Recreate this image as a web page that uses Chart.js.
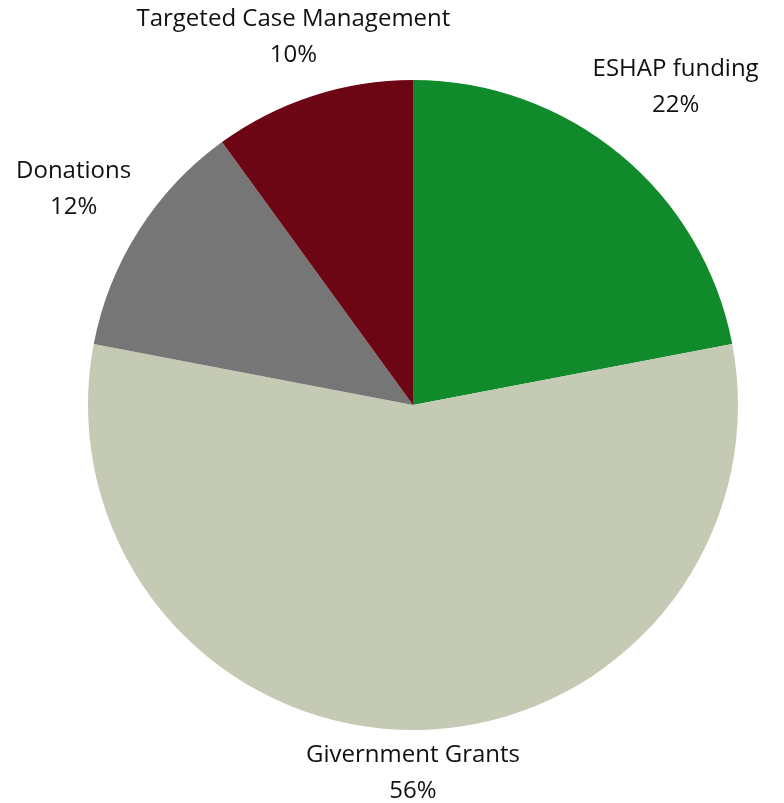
<!DOCTYPE html>
<html>
<head>
<meta charset="utf-8">
<title>Funding Sources</title>
<script src="https://cdn.jsdelivr.net/npm/chart.js@4/dist/chart.umd.min.js"></script>
<style>
    html, body { margin: 0; padding: 0; background: #fff; }
    #wrap { width: 784px; height: 803px; }
</style>
</head>
<body>
<div id="wrap"><canvas id="fundingPie" width="784" height="803"></canvas></div>
<script>
// Funding sources, clockwise from 12 o'clock
const categories = ['ESHAP funding', 'Givernment Grants', 'Donations', 'Targeted Case Management'];
const shares = [22, 56, 12, 10];
const sliceColors = ['#118a2b', '#c5cab4', '#767676', '#6c0514'];
// how far past the rim each label sits (px)
const labelGaps = [87, 43, 77, 62];

const outsideLabels = {
    id: 'outsideLabels',
    afterDraw(chart) {
        const ctx = chart.ctx;
        const arcs = chart.getDatasetMeta(0).data;
        ctx.save();
        ctx.font = '24px "Open Sans", sans-serif';
        ctx.fillStyle = '#111';
        ctx.textAlign = 'center';
        ctx.textBaseline = 'middle';
        arcs.forEach((arc, i) => {
            const mid = (arc.startAngle + arc.endAngle) / 2;
            const dist = arc.outerRadius + labelGaps[i];
            const x = arc.x + Math.cos(mid) * dist;
            const y = arc.y + Math.sin(mid) * dist;
            ctx.fillText(categories[i], x, y - 18);
            ctx.fillText(shares[i] + '%', x, y + 18);
        });
        ctx.restore();
    }
};

new Chart(document.getElementById('fundingPie'), {
    type: 'pie',
    data: {
        labels: categories,
        datasets: [{
            data: shares,
            backgroundColor: sliceColors,
            borderWidth: 0
        }]
    },
    options: {
        responsive: false,
        animation: false,
        layout: { padding: { left: 88, right: 46, top: 80, bottom: 73 } },
        plugins: {
            legend: { display: false },
            tooltip: { enabled: false }
        }
    },
    plugins: [outsideLabels]
});
</script>
</body>
</html>
